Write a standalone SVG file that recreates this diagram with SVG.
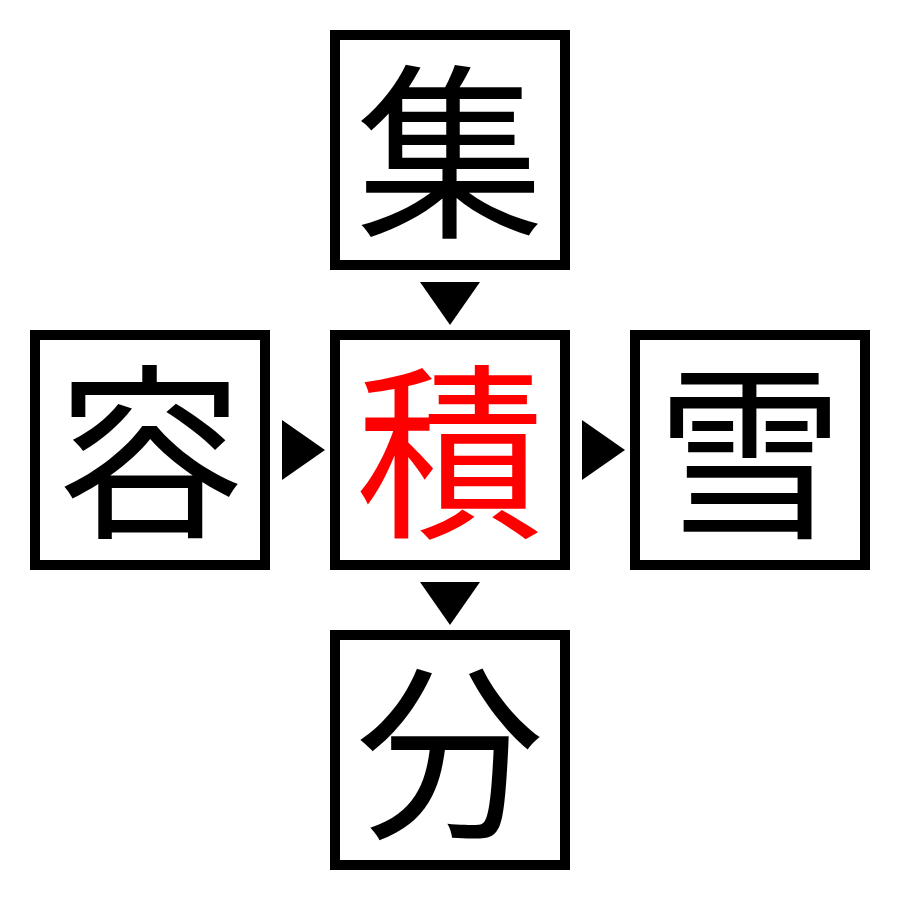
<svg xmlns="http://www.w3.org/2000/svg" width="900" height="900" viewBox="0 0 900 900">
<style>
.box{fill:#fff;stroke:#000;stroke-width:10}
.k{font-family:"Noto Sans CJK JP","Noto Sans CJK SC",sans-serif;font-size:188px;text-anchor:middle;fill:#000}
.red{fill:#f00}
.arr{fill:#000}
</style>
<rect width="900" height="900" fill="#fff"/>
<g id="connectors">
<polygon class="arr" points="420,282 480,282 450,325"/>
<polygon class="arr" points="282,420 282,480 325,450"/>
<polygon class="arr" points="582,420 582,480 625,450"/>
<polygon class="arr" points="420,582 480,582 450,625"/>
</g>
<g id="top"><rect class="box" x="335" y="35" width="230" height="230"/><text class="k" x="450" y="223">集</text></g>
<g id="left"><rect class="box" x="35" y="335" width="230" height="230"/><text class="k" x="150" y="523">容</text></g>
<g id="center"><rect class="box" x="335" y="335" width="230" height="230"/><text class="k red" x="450" y="523">積</text></g>
<g id="right"><rect class="box" x="635" y="335" width="230" height="230"/><text class="k" x="750" y="523">雪</text></g>
<g id="bottom"><rect class="box" x="335" y="635" width="230" height="230"/><text class="k" x="450" y="823">分</text></g>
</svg>
